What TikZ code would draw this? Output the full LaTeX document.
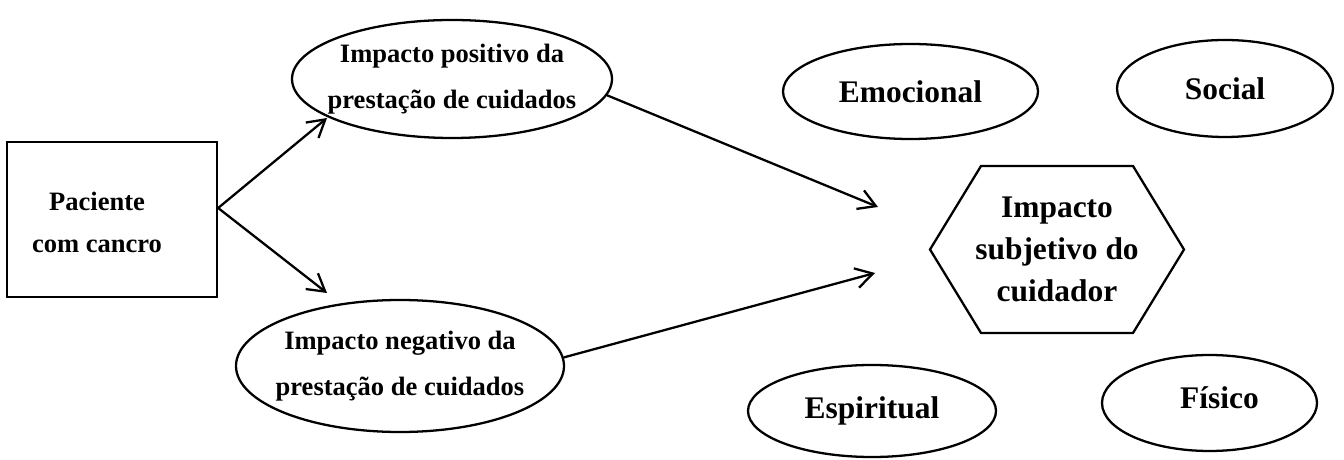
\documentclass[tikz,border=0pt]{standalone}
\usepackage{fontspec}
\setmainfont{Liberation Serif}
\usetikzlibrary{shapes.geometric, arrows.meta}
\tikzset{>={Straight Barb[length=3.4mm,width=4mm]}}
\tikzset{
  caixa/.style={draw, line width=1.3pt, minimum width=4.2cm, minimum height=3.1cm},
  bolha/.style={draw, ellipse, line width=1.3pt, inner sep=0pt, font=\bfseries\fontsize{17.9}{23.9}\selectfont},
  bolhadupla/.style={draw, ellipse, line width=1.3pt, inner xsep=-0.3cm, inner ysep=0pt, align=center, font=\bfseries\fontsize{15.1}{26}\selectfont},
  seta/.style={->, line width=1.3pt}
}

\begin{document}
\begin{tikzpicture}
\useasboundingbox (0,0) rectangle (26.88,9.18);
% paciente
\node[caixa, label={[align=center, font=\bfseries\fontsize{15.1}{23.5}\selectfont, xshift=-0.3cm, yshift=-0.06cm]center:{Paciente\\com cancro}}] (paciente) at (2.24,4.79) {};
% impacto da prestacao de cuidados
\node[bolhadupla, minimum width=6.4cm, minimum height=2.36cm] (positivo) at (9.04,7.6) {Impacto positivo da\\prestação de cuidados};
\node[bolhadupla, minimum width=6.56cm, minimum height=2.64cm] (negativo) at (8.0,1.86) {Impacto negativo da\\prestação de cuidados};
% impacto subjetivo
\node[align=center, font=\bfseries\fontsize{17.9}{23.9}\selectfont] (subjetivo) at (21.14,4.19) {Impacto\\subjetivo do\\cuidador};
\draw[line width=1.3pt] (subjetivo.center) +(-2.54,0) -- +(-1.52,1.67) -- +(1.52,1.67) -- +(2.54,0) -- +(1.52,-1.67) -- +(-1.52,-1.67) -- cycle;
\node[bolha, minimum width=5.1cm, minimum height=1.9cm] (emocional) at (18.21,7.35) {Emocional};
\node[bolha, minimum width=4.32cm, minimum height=1.94cm] (social) at (24.5,7.41) {Social};
\node[bolha, minimum width=4.96cm, minimum height=1.84cm] (espiritual) at (17.44,0.96) {Espiritual};
\node[bolha, minimum width=4.3cm, minimum height=1.92cm, label={[font=\bfseries\fontsize{17.9}{23.9}\selectfont, xshift=0.2cm, yshift=0.1cm]center:Físico}] (fisico) at (24.19,1.12) {};
% setas
\coordinate (pontaA) at (6.54,6.82);
\coordinate (pontaB) at (6.54,3.32);
\coordinate (pontaC) at (17.56,5.04);
\coordinate (pontaD) at (17.5,3.72);
\draw[seta] ([yshift=0.23cm]paciente.east) -- (pontaA);
\draw[seta] ([yshift=0.23cm]paciente.east) -- (pontaB);
\draw[seta] (positivo.-6) -- (pontaC);
\draw[seta] (negativo.3) -- (pontaD);
\end{tikzpicture}
\end{document}
